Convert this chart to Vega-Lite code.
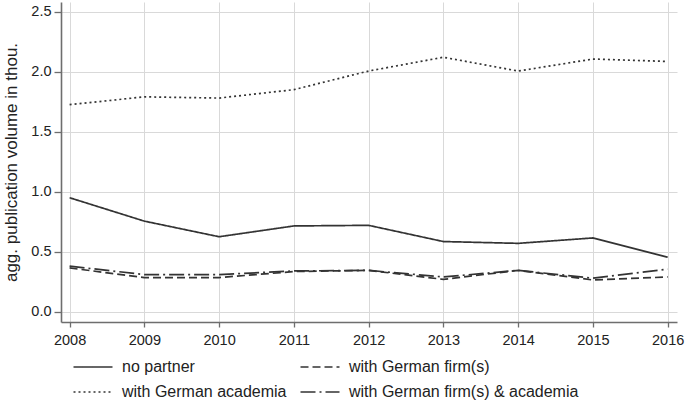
{
  "$schema": "https://vega.github.io/schema/vega-lite/v6.json",
  "width": 616,
  "height": 320,
  "autosize": "none",
  "padding": {"left": 61, "top": 2, "right": 8, "bottom": 78},
  "background": "white",
  "config": {
    "font": "Liberation Sans",
    "view": {"stroke": null},
    "axis": {
      "gridColor": "#d9d9d9",
      "gridWidth": 1,
      "domainColor": "#6e6e6e",
      "domainWidth": 1.6,
      "tickColor": "#6e6e6e",
      "tickWidth": 1.3,
      "labelColor": "#222222",
      "labelFontSize": 14.5,
      "titleColor": "#222222",
      "titleFontWeight": "normal"
    }
  },
  "data": {
    "values": [
      {"year": 2008, "series": "no partner", "value": 0.95},
      {"year": 2009, "series": "no partner", "value": 0.755},
      {"year": 2010, "series": "no partner", "value": 0.625},
      {"year": 2011, "series": "no partner", "value": 0.715},
      {"year": 2012, "series": "no partner", "value": 0.72},
      {"year": 2013, "series": "no partner", "value": 0.585},
      {"year": 2014, "series": "no partner", "value": 0.57},
      {"year": 2015, "series": "no partner", "value": 0.615},
      {"year": 2016, "series": "no partner", "value": 0.455},
      {"year": 2008, "series": "with German academia", "value": 1.725},
      {"year": 2009, "series": "with German academia", "value": 1.79},
      {"year": 2010, "series": "with German academia", "value": 1.78},
      {"year": 2011, "series": "with German academia", "value": 1.85},
      {"year": 2012, "series": "with German academia", "value": 2.005},
      {"year": 2013, "series": "with German academia", "value": 2.12},
      {"year": 2014, "series": "with German academia", "value": 2.005},
      {"year": 2015, "series": "with German academia", "value": 2.105},
      {"year": 2016, "series": "with German academia", "value": 2.085},
      {"year": 2008, "series": "with German firm(s)", "value": 0.365},
      {"year": 2009, "series": "with German firm(s)", "value": 0.285},
      {"year": 2010, "series": "with German firm(s)", "value": 0.285},
      {"year": 2011, "series": "with German firm(s)", "value": 0.335},
      {"year": 2012, "series": "with German firm(s)", "value": 0.345},
      {"year": 2013, "series": "with German firm(s)", "value": 0.27},
      {"year": 2014, "series": "with German firm(s)", "value": 0.345},
      {"year": 2015, "series": "with German firm(s)", "value": 0.265},
      {"year": 2016, "series": "with German firm(s)", "value": 0.29},
      {"year": 2008, "series": "with German firm(s) & academia", "value": 0.38},
      {"year": 2009, "series": "with German firm(s) & academia", "value": 0.31},
      {"year": 2010, "series": "with German firm(s) & academia", "value": 0.31},
      {"year": 2011, "series": "with German firm(s) & academia", "value": 0.34},
      {"year": 2012, "series": "with German firm(s) & academia", "value": 0.345},
      {"year": 2013, "series": "with German firm(s) & academia", "value": 0.29},
      {"year": 2014, "series": "with German firm(s) & academia", "value": 0.345},
      {"year": 2015, "series": "with German firm(s) & academia", "value": 0.28},
      {"year": 2016, "series": "with German firm(s) & academia", "value": 0.355}
    ]
  },
  "mark": {"type": "line", "color": "#333333", "strokeWidth": 1.7},
  "encoding": {
    "x": {
      "field": "year",
      "type": "quantitative",
      "scale": {"domain": [2007.885, 2016.125], "nice": false, "zero": false},
      "axis": {
        "title": null,
        "values": [2008, 2009, 2010, 2011, 2012, 2013, 2014, 2015, 2016],
        "format": "d",
        "tickSize": 5,
        "labelPadding": 6,
        "labelFlush": false
      }
    },
    "y": {
      "field": "value",
      "type": "quantitative",
      "scale": {"domain": [-0.085, 2.58], "nice": false, "zero": false},
      "axis": {
        "title": "agg. publication volume in thou.",
        "titleFontSize": 17,
        "titlePadding": 10,
        "values": [0, 0.5, 1, 1.5, 2, 2.5],
        "format": ".1f",
        "tickSize": 7,
        "labelPadding": 3
      }
    },
    "strokeDash": {
      "field": "series",
      "type": "nominal",
      "scale": {
        "domain": ["no partner", "with German firm(s)", "with German academia", "with German firm(s) & academia"],
        "range": [[1, 0], [8, 4], [2, 3], [15, 4, 2, 4]]
      },
      "legend": {
        "orient": "none",
        "legendX": 21,
        "legendY": 354,
        "title": null,
        "columns": 2,
        "direction": "horizontal",
        "symbolType": "M-2,0H2",
        "symbolSize": 380,
        "symbolStrokeWidth": 1.7,
        "symbolStrokeColor": "#333333",
        "symbolFillColor": "transparent",
        "labelFontSize": 16,
        "labelColor": "#222222",
        "labelOffset": 18,
        "columnPadding": 10,
        "rowPadding": 6,
        "labelLimit": 400
      }
    }
  }
}
